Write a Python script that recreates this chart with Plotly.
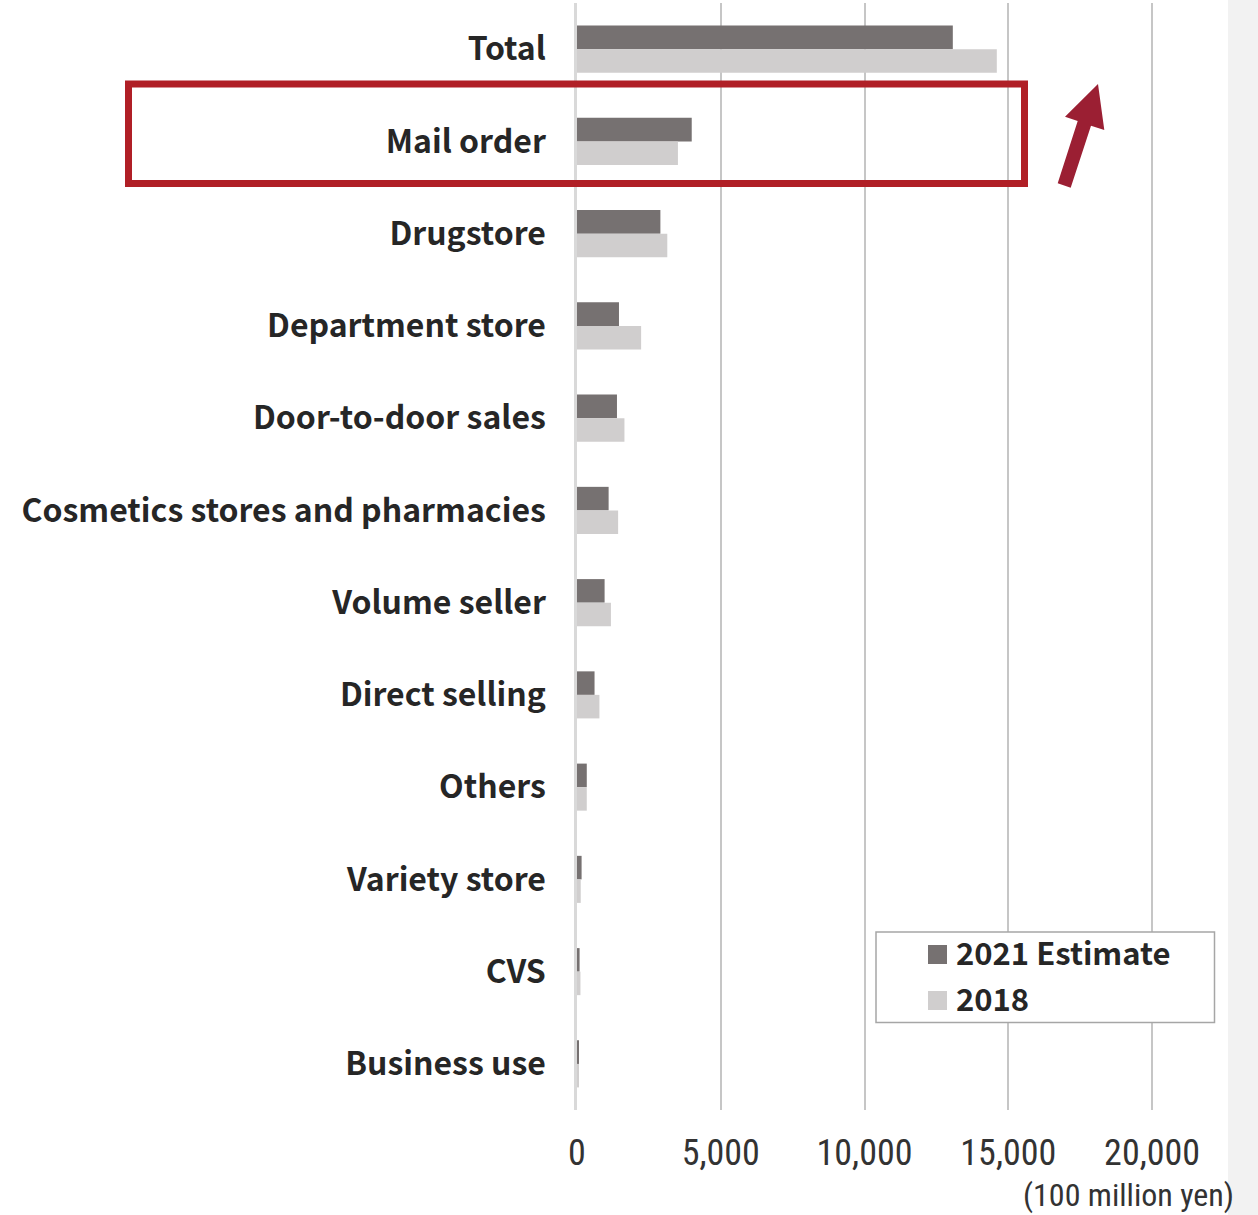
import plotly.graph_objects as go

# Cosmetics market size by sales channel (100 million yen)
categories = [
    "Total", "Mail order", "Drugstore", "Department store", "Door-to-door sales",
    "Cosmetics stores and pharmacies", "Volume seller", "Direct selling",
    "Others", "Variety store", "CVS", "Business use",
]
est_2021 = [13070, 3990, 2900, 1460, 1390, 1100, 960, 610, 340, 160, 90, 60]
val_2018 = [14600, 3510, 3140, 2230, 1650, 1430, 1180, 780, 340, 130, 120, 70]
series_names = ["2021 Estimate", "2018"]
series_colors = ["#767171", "#d0cece"]
x_ticks = [0, 5000, 10000, 15000, 20000]
unit_label = "(100 million yen)"

W, H = 1258, 1215
ML, MR, MT, MB = 577, 30, 3, 105
PW, PH = W - ML - MR, H - MT - MB
X_MAX = 22640

LABEL_FONT = "Noto Sans CJK JP, Noto Sans, sans-serif"
NUM_FONT = "Liberation Sans Narrow, Roboto Condensed, Noto Sans CJK JP, sans-serif"
TEXT_COLOR = "#262626"


def px(x):
    """page x pixel -> paper fraction"""
    return (x - ML) / PW


def py(y):
    """page y pixel -> paper fraction"""
    return (H - MB - y) / PH


fig = go.Figure()
for name, vals, col in zip(series_names, [est_2021, val_2018], series_colors):
    fig.add_trace(go.Bar(
        y=categories, x=vals, name=name, orientation="h",
        marker=dict(color=col, line=dict(width=0)),
        showlegend=False,
    ))

shapes = []
annotations = []

# light page strip on the far right
shapes.append(dict(type="rect", xref="paper", yref="paper",
                   x0=px(1228), x1=px(W + 5), y0=py(H + 5), y1=py(-5),
                   fillcolor="#f2f2f2", line=dict(width=0), layer="below"))

# highlight frame around the mail-order row
shapes.append(dict(type="rect", xref="paper", yref="paper",
                   x0=px(128.5), x1=px(1024.5), y0=py(183.5), y1=py(84),
                   line=dict(color="#b01f26", width=7), fillcolor="rgba(0,0,0,0)"))

# upward arrow
arrow_pts = [(1098, 84), (1104.3, 130), (1091, 125.7), (1070.7, 187.7),
             (1057.7, 183.3), (1077.7, 121), (1065, 116.7)]
path = "M " + " L ".join(f"{px(a):.5f},{py(b):.5f}" for a, b in arrow_pts) + " Z"
shapes.append(dict(type="path", xref="paper", yref="paper", path=path,
                   fillcolor="#9b1f33", line=dict(width=0)))

# legend box
shapes.append(dict(type="rect", xref="paper", yref="paper",
                   x0=px(876), x1=px(1214.5), y0=py(1022.5), y1=py(932),
                   fillcolor="white", line=dict(color="#a6a6a6", width=1.5)))
for i, (name, col) in enumerate(zip(series_names, series_colors)):
    cy = 954.5 + i * 46
    shapes.append(dict(type="rect", xref="paper", yref="paper",
                       x0=px(928), x1=px(947), y0=py(cy + 9.5), y1=py(cy - 9.5),
                       fillcolor=col, line=dict(width=0)))
    annotations.append(dict(xref="paper", yref="paper", x=px(954), y=py(cy - 3),
                            text=name, showarrow=False, xanchor="left", yanchor="middle",
                            font=dict(family=LABEL_FONT, size=31, color=TEXT_COLOR,
                                      weight="bold")))

# unit label
annotations.append(dict(xref="paper", yref="paper", x=px(1236), y=py(1195),
                        text=unit_label, showarrow=False, xanchor="right",
                        yanchor="middle",
                        font=dict(family=NUM_FONT, size=32, color="#333333")))

fig.update_layout(
    width=W, height=H, autosize=False,
    margin=dict(l=ML, r=MR, t=MT, b=MB, pad=0),
    paper_bgcolor="white", plot_bgcolor="white",
    barmode="group", bargap=0.49, bargroupgap=0,
    shapes=shapes, annotations=annotations,
)
fig.update_xaxes(
    range=[0, X_MAX], tickvals=x_ticks, tickformat=",",
    showgrid=True, gridcolor="#c6c6c6", gridwidth=2,
    zeroline=False, showline=False, ticks="",
    ticklabelstandoff=18,
    tickfont=dict(family=NUM_FONT, size=36, color="#333333"),
)
fig.update_yaxes(
    autorange="reversed", showgrid=False, zeroline=False,
    showline=True, linecolor="#d9d9d9", linewidth=2.5, ticks="",
    ticklabelstandoff=22,
    tickfont=dict(family=LABEL_FONT, size=32, color=TEXT_COLOR, weight="bold"),
)

fig.write_html("out.html")
